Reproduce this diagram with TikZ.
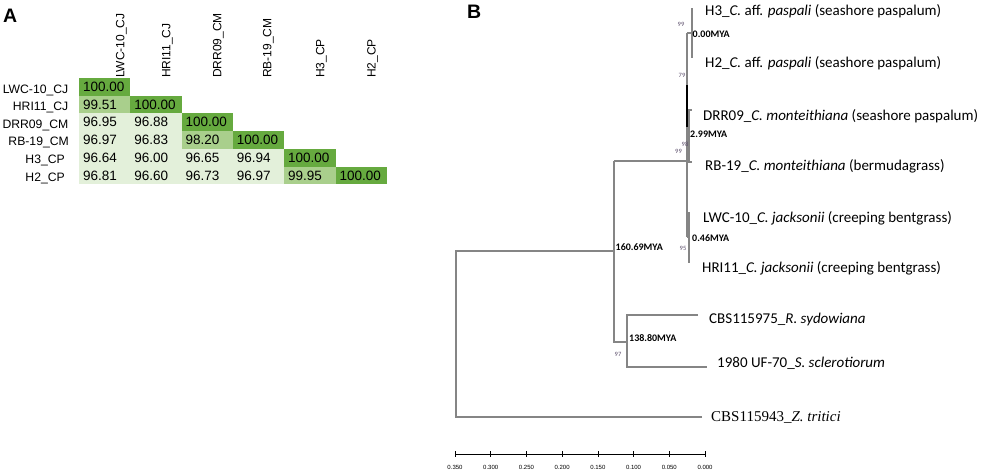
\documentclass[tikz,border=0pt]{standalone}
\usepackage{fontspec}
\setmainfont{Liberation Sans}
\newfontfamily\calib{Carlito}
\newfontfamily\tnr{Liberation Serif}
\definecolor{dg}{HTML}{66AA3F}
\definecolor{mg}{HTML}{A9CF8C}
\definecolor{lg}{HTML}{E3F0DA}
\definecolor{treegray}{HTML}{858585}
\definecolor{bsc}{HTML}{5B4E6B}
\tikzset{
  cell/.style={minimum width=51.3pt, minimum height=17.7pt, text width=43.3pt,
    inner xsep=4pt, inner ysep=0pt, align=left, font=\fontsize{13.5}{13.5}\selectfont, anchor=center},
  colhead/.style={rotate=90, anchor=base west, inner sep=0pt, font=\fontsize{12}{12}\selectfont},
  rowhead/.style={anchor=base east, inner sep=0pt, font=\fontsize{12.2}{12.2}\selectfont},
  br/.style={draw=treegray, line width=1.1pt},
  tip/.style={anchor=base west, inner sep=0pt, font=\calib\fontsize{15}{15}\selectfont},
  mya/.style={anchor=west, inner sep=0pt, font=\calib\bfseries\fontsize{10}{10}\selectfont},
  bs/.style={anchor=center, inner sep=0pt, text=bsc, font=\calib\fontsize{6.5}{6.5}\selectfont},
  axl/.style={anchor=center, inner sep=0pt, font=\fontsize{6}{6}\selectfont},
  panel/.style={anchor=base west, inner sep=0pt, font=\bfseries\fontsize{19.5}{19.5}\selectfont}
}
\begin{document}
\begin{tikzpicture}[x=1pt,y=-1pt]
\useasboundingbox (0,0) rectangle (982,472);
% ---------------- Panel A ----------------
\node[panel] (labA) at (3,22) {A};
% column headers
\node[colhead] (ch1) at (124.3,78) {LWC-10\_CJ};
\node[colhead] (ch2) at (170.3,78) {HRI11\_CJ};
\node[colhead] (ch3) at (221.3,78) {DRR09\_CM};
\node[colhead] (ch4) at (271.3,78) {RB-19\_CM};
\node[colhead] (ch5) at (324.3,78) {H3\_CP};
\node[colhead] (ch6) at (375.5,78) {H2\_CP};
% row headers
\node[rowhead] (rh1) at (68.5,93) {LWC-10\_CJ};
\node[rowhead] (rh2) at (68.5,110.5) {HRI11\_CJ};
\node[rowhead] (rh3) at (68.5,128.2) {DRR09\_CM};
\node[rowhead] (rh4) at (69,145.9) {RB-19\_CM};
\node[rowhead] (rh5) at (65,163.6) {H3\_CP};
\node[rowhead] (rh6) at (65,181.3) {H2\_CP};
% cells  (column centers 104.65 + 51.3 k ; row centers 86.85 + 17.7 k)
\node[cell, fill=dg] (c11) at (104.65,86.85) {100.00};
\node[cell, fill=mg] (c21) at (104.65,104.55) {99.51};
\node[cell, fill=dg] (c22) at (155.95,104.55) {100.00};
\node[cell, fill=lg] (c31) at (104.65,122.25) {96.95};
\node[cell, fill=lg] (c32) at (155.95,122.25) {96.88};
\node[cell, fill=dg] (c33) at (207.25,122.25) {100.00};
\node[cell, fill=lg] (c41) at (104.65,139.95) {96.97};
\node[cell, fill=lg] (c42) at (155.95,139.95) {96.83};
\node[cell, fill=mg] (c43) at (207.25,139.95) {98.20};
\node[cell, fill=dg] (c44) at (258.55,139.95) {100.00};
\node[cell, fill=lg] (c51) at (104.65,157.65) {96.64};
\node[cell, fill=lg] (c52) at (155.95,157.65) {96.00};
\node[cell, fill=lg] (c53) at (207.25,157.65) {96.65};
\node[cell, fill=lg] (c54) at (258.55,157.65) {96.94};
\node[cell, fill=dg] (c55) at (309.85,157.65) {100.00};
\node[cell, fill=lg] (c61) at (104.65,175.35) {96.81};
\node[cell, fill=lg] (c62) at (155.95,175.35) {96.60};
\node[cell, fill=lg] (c63) at (207.25,175.35) {96.73};
\node[cell, fill=lg] (c64) at (258.55,175.35) {96.97};
\node[cell, fill=mg] (c65) at (309.85,175.35) {99.95};
\node[cell, fill=dg] (c66) at (361.15,175.35) {100.00};
% ---------------- Panel B ----------------
\node[panel] (labB) at (467,18) {B};
% tree coordinates
\coordinate (Rt) at (456,251);
\coordinate (Rb) at (456,417);
\coordinate (Zt) at (702,417);
\coordinate (N1m) at (614,251);
\coordinate (N1t) at (614,161);
\coordinate (N1b) at (614,342);
\coordinate (N2m) at (627,342);
\coordinate (N2t) at (627,315);
\coordinate (N2b) at (627,367);
\coordinate (Rs) at (698,315);
\coordinate (Ss) at (707,367);
\coordinate (Cm) at (687,161);
\coordinate (Ct) at (687,33);
\coordinate (Cb) at (687,237);
\coordinate (Hm) at (692,33);
\coordinate (Ht) at (692,8);
\coordinate (Hb) at (692,58);
\coordinate (Dm0) at (687,136);
\coordinate (Dm) at (689,136);
\coordinate (Dt) at (689,110);
\coordinate (Db) at (689,162);
\coordinate (Dt2) at (691.5,110);
\coordinate (Db2) at (691.5,162);
\coordinate (Lm) at (689,237);
\coordinate (Lt) at (689,212);
\coordinate (Lb) at (689,263);
\coordinate (Kt) at (687,85);
\coordinate (Kb) at (687,127);
% branches
\draw[br] (Zt) -- (Rb) -- (Rt) -- (N1m);
\draw[br] (N1t) -- (N1b) -- (N2m);
\draw[br] (Rs) -- (N2t) -- (N2b) -- (Ss);
\draw[br] (N1t) -- (Cm);
\draw[br] (Ct) -- (Cb);
\draw[br] (Ct) -- (Hm);
\draw[br] (Ht) -- (Hb);
\draw[br] (Dm0) -- (Dm);
\draw[br] (Dt2) -- (Dt) -- (Db) -- (Db2);
\draw[br] (Cb) -- (Lm);
\draw[br] (Lt) -- (Lb);
\draw[black, line width=1.5pt] (Kt) -- (Kb);
% tip labels
\node[tip] (tH3) at (705,15.5) {H3\_\textit{C.} aff. \textit{paspali} (seashore paspalum)};
\node[tip] (tH2) at (705,67) {H2\_\textit{C.} aff. \textit{paspali} (seashore paspalum)};
\node[tip] (tDR) at (703,120) {DRR09\_\textit{C. monteithiana} (seashore paspalum)};
\node[tip] (tRB) at (705,170) {RB-19\_\textit{C. monteithiana} (bermudagrass)};
\node[tip] (tLW) at (703,222) {LWC-10\_\textit{C. jacksonii} (creeping bentgrass)};
\node[tip] (tHR) at (702,272) {HRI11\_\textit{C. jacksonii} (creeping bentgrass)};
\node[tip] (tRS) at (709,323) {CBS115975\_\textit{R. sydowiana}};
\node[tip] (tSS) at (717,367) {1980 UF-70\_\textit{S. sclerotiorum}};
\node[tip, font=\tnr\fontsize{15}{15}\selectfont] (tZT) at (711,421) {CBS115943\_\textit{Z. tritici}};
% node ages
\node[mya] (m1) at (692.5,34) {0.00MYA};
\node[mya] (m2) at (690,134) {2.99MYA};
\node[mya] (m3) at (692,238) {0.46MYA};
\node[mya] (m4) at (615.5,247) {160.69MYA};
\node[mya] (m5) at (629,338) {138.80MYA};
% bootstrap values
\node[bs] (b1) at (681,24) {99};
\node[bs] (b2) at (682,75) {79};
\node[bs] (b3) at (685,144.5) {98};
\node[bs] (b4) at (678.5,151.5) {99};
\node[bs] (b5) at (683,248) {95};
\node[bs] (b6) at (618,354) {97};
% axis
\coordinate (A0) at (455,454);
\coordinate (A7) at (705,454);
\draw[black, line width=0.6pt] (A0) -- (A7);
\foreach \i/\lab in {0/0.350,1/0.300,2/0.250,3/0.200,4/0.150,5/0.100,6/0.050,7/0.000}{
  \coordinate (T\i) at ({455+\i*250/7},454);
  \draw[black, line width=0.6pt] ([yshift=3pt]T\i) -- ([yshift=-3pt]T\i);
  \node[axl] (L\i) at ({455+\i*250/7},467) {\lab};
}
\end{tikzpicture}
\end{document}
